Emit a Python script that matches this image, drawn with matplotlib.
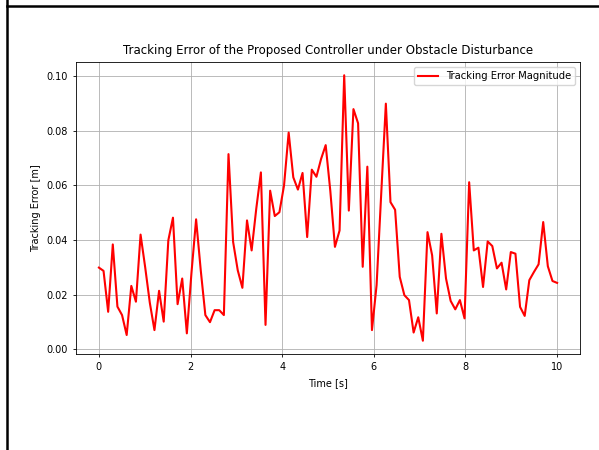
import numpy as np
import matplotlib
matplotlib.use("Agg")
import matplotlib.pyplot as plt
from matplotlib.lines import Line2D

time_s = np.linspace(0, 10, 100)
tracking_error = [
    0.0299, 0.0287, 0.0137, 0.0384, 0.0156, 0.0125, 0.0052, 0.0232, 0.0174, 0.0420,
    0.0300, 0.0170, 0.0070, 0.0214, 0.0101, 0.0399, 0.0482, 0.0165, 0.0259, 0.0058,
    0.0280, 0.0476, 0.0290, 0.0125, 0.0099, 0.0143, 0.0143, 0.0125, 0.0715, 0.0393,
    0.0289, 0.0225, 0.0472, 0.0362, 0.0515, 0.0648, 0.0089, 0.0581, 0.0488, 0.0502,
    0.0600, 0.0794, 0.0630, 0.0585, 0.0646, 0.0411, 0.0658, 0.0632, 0.0697, 0.0748,
    0.0580, 0.0375, 0.0435, 0.1004, 0.0508, 0.0880, 0.0828, 0.0302, 0.0669, 0.0070,
    0.0235, 0.0570, 0.0900, 0.0539, 0.0511, 0.0265, 0.0198, 0.0180, 0.0061, 0.0117,
    0.0031, 0.0429, 0.0344, 0.0131, 0.0423, 0.0259, 0.0177, 0.0146, 0.0180, 0.0113,
    0.0612, 0.0362, 0.0372, 0.0228, 0.0395, 0.0378, 0.0296, 0.0317, 0.0219, 0.0356,
    0.0350, 0.0155, 0.0122, 0.0253, 0.0283, 0.0311, 0.0466, 0.0304, 0.0250, 0.0243,
]

title = "Tracking Error of the Proposed Controller under Obstacle Disturbance"
xlabel = "Time [s]"
ylabel = "Tracking Error [m]"
legend_label = "Tracking Error Magnitude"

fig = plt.figure(figsize=(5.99, 4.5), dpi=100)
ax = fig.add_axes([76 / 599, 96 / 450, 504 / 599, 292 / 450])
ax.plot(time_s, tracking_error, color="red", linewidth=1.5, label=legend_label)
ax.set_title(title, fontsize=8.5)
ax.set_xlabel(xlabel, fontsize=7)
ax.set_ylabel(ylabel, fontsize=7)
ax.tick_params(labelsize=7, width=0.6, length=2.5)
ax.grid(True, linewidth=0.6, color="#b0b0b0")
for s in ax.spines.values():
    s.set_linewidth(0.6)
ax.legend(loc="upper right", fontsize=7.2)

# page frame lines visible in the screenshot
fig.add_artist(Line2D([6.5 / 599, 6.5 / 599], [0, 1], color="black", linewidth=1.8, transform=fig.transFigure))
fig.add_artist(Line2D([6.5 / 599, 1], [1 - 6.3 / 450, 1 - 6.3 / 450], color="black", linewidth=1.8, transform=fig.transFigure))

fig.savefig("out.png", dpi=100)
